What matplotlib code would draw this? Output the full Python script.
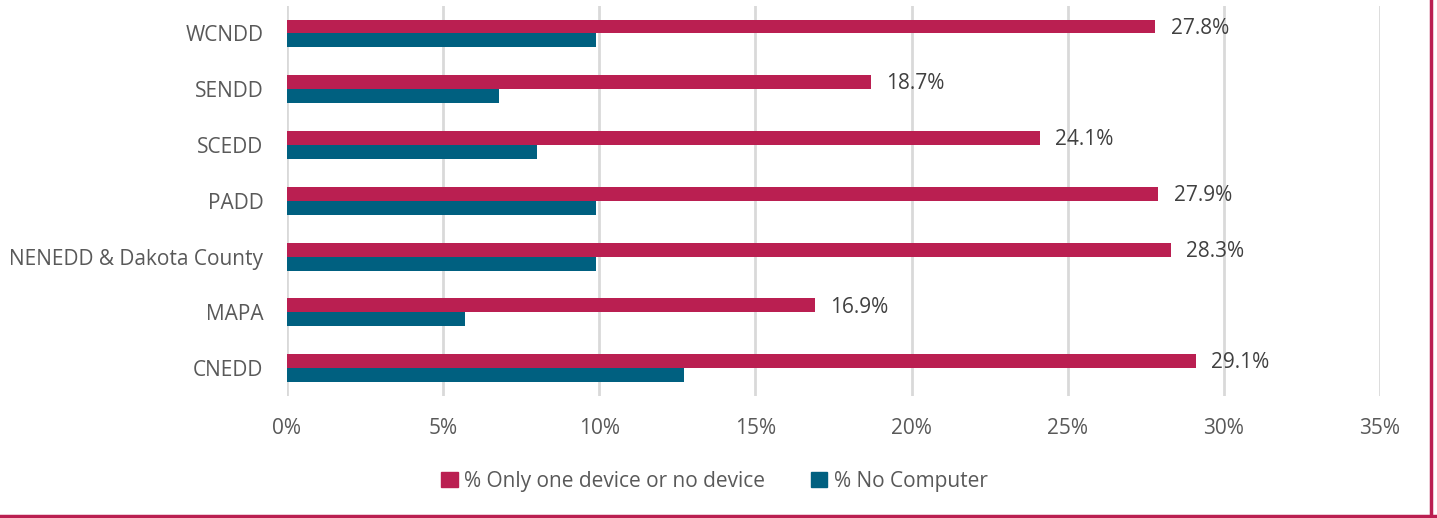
import matplotlib.pyplot as plt
from matplotlib.lines import Line2D
from matplotlib.patches import Patch
import numpy as np

plt.rcParams['font.family'] = ['Open Sans', 'DejaVu Sans']

regions = ["WCNDD", "SENDD", "SCEDD", "PADD", "NENEDD & Dakota County", "MAPA", "CNEDD"]
one_or_none = [27.8, 18.7, 24.1, 27.9, 28.3, 16.9, 29.1]
no_computer = [9.9, 6.8, 8.0, 9.9, 9.9, 5.7, 12.7]
xticks = [0, 5, 10, 15, 20, 25, 30, 35]

pink = "#BA1F51"
teal = "#006080"
txt = "#595959"

fig = plt.figure(figsize=(14.37, 5.18), dpi=100)
ax = fig.add_axes([0.1997, 0.2355, 0.7606, 0.7537])

y = np.arange(len(regions))
h = 0.25
ax.barh(y - h / 2, one_or_none, height=h, color=pink, zorder=3)
ax.barh(y + h / 2, no_computer, height=h, color=teal, zorder=3)

for yi, v in zip(y, one_or_none):
    ax.text(v + 0.5, yi - h / 2 + 0.03, f"{v:.1f}%", va="center", ha="left",
            fontsize=15, color="#404040")

ax.set_ylim(len(regions) - 0.5, -0.5)
ax.set_xlim(0, 35)
ax.set_xticks(xticks)
ax.set_xticklabels([f"{t}%" for t in xticks])
ax.set_yticks(y)
ax.set_yticklabels(regions)
ax.tick_params(axis="both", length=0, labelsize=15, colors=txt)
ax.tick_params(axis="y", pad=17)
ax.tick_params(axis="x", pad=16)
ax.grid(axis="x", color="#D9D9D9", linewidth=2, zorder=0)
for s in ax.spines.values():
    s.set_visible(False)

handles = [Patch(color=pink, label="% Only one device or no device"),
           Patch(color=teal, label="% No Computer")]
fig.legend(handles=handles, loc="center", bbox_to_anchor=(0.497, 0.071), ncol=2,
           frameon=False, fontsize=15, labelcolor=txt, handlelength=0.8,
           handleheight=0.8, handletextpad=0.3, columnspacing=2.2)

fig.add_artist(Line2D([0.9958, 0.9958], [0, 1], color=pink, linewidth=2.5,
                      transform=fig.transFigure))
fig.add_artist(Line2D([0, 1], [0.003, 0.003], color=pink, linewidth=2.5,
                      transform=fig.transFigure))

fig.savefig("out.png", dpi=100)
